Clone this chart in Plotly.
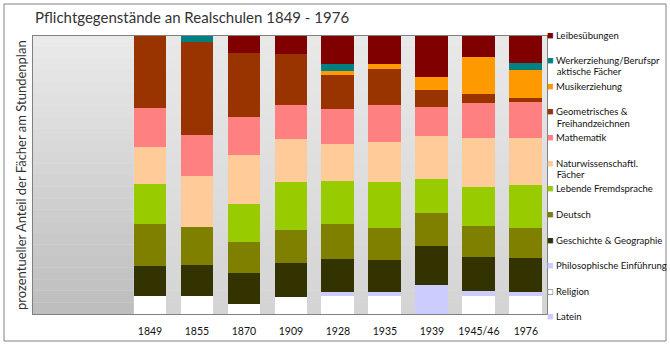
import plotly.graph_objects as go

years = ["1849", "1855", "1870", "1909", "1928", "1935", "1939", "1945/46", "1976"]

# percentage share of subjects (bottom of stack first)
latein       = [0, 0, 0, 0, 0, 0, 10.4, 0, 0]
religion     = [6.5, 6.5, 3.6, 6.1, 6.5, 6.5, 0, 6.5, 6.5]
philosophie  = [0, 0, 0, 0, 1.4, 1.4, 0, 1.8, 1.4]
geschichte   = [10.8, 11.2, 11.2, 12.2, 11.9, 11.5, 14.0, 12.2, 12.2]
deutsch      = [15.1, 13.7, 11.2, 11.9, 12.6, 11.5, 11.9, 11.2, 10.8]
fremdsprache = [14.4, 0, 13.7, 17.3, 15.5, 16.5, 12.2, 14.0, 15.5]
naturwiss    = [13.3, 18.3, 17.6, 15.5, 13.3, 14.4, 15.5, 17.6, 16.9]
mathematik   = [14.0, 14.7, 13.7, 12.2, 12.6, 13.3, 10.4, 12.6, 12.9]
geometrie    = [25.9, 33.5, 23.0, 18.3, 12.2, 12.9, 6.1, 3.2, 1.4]
musik        = [0, 0, 0, 0, 1.4, 1.8, 4.7, 13.3, 10.1]
werk         = [0, 2.2, 0, 0, 2.5, 0, 0, 0, 2.5]
leibes       = [0, 0, 6.1, 6.5, 10.1, 10.1, 14.7, 7.6, 9.7]

series_names = [
    "Latein", "Religion", "Philosophische Einführung", "Geschichte & Geographie",
    "Deutsch", "Lebende Fremdsprache", "Naturwissenschaftl.<br>Fächer", "Mathematik",
    "Geometrisches &<br>Freihandzeichnen", "Musikerziehung",
    "Werkerziehung/Berufspr<br>aktische Fächer", "Leibesübungen",
]
series_values = [latein, religion, philosophie, geschichte, deutsch, fremdsprache,
                 naturwiss, mathematik, geometrie, musik, werk, leibes]
series_colors = ["#CCCCFF", "#FFFFFF", "#CCCCFF", "#333300", "#808000", "#99CC00",
                 "#FFCC99", "#FF8080", "#993300", "#FF9900", "#008080", "#800000"]

FONT = "Lato"
fig = go.Figure()

for name, vals, col in zip(series_names, series_values, series_colors):
    fig.add_trace(go.Bar(x=years, y=vals, name=name, marker=dict(color=col, line=dict(width=0)),
                         showlegend=False))

# legend entries (glyph + label), added top of stack first
legend_traces = []
for name, col in zip(series_names, series_colors):
    if col == "#FFFFFF":
        glyph = '<span style="color:#909090;font-size:11px">□</span>'
    else:
        glyph = f'<span style="color:{col};font-size:11px">■</span>'
    label = name if "<br>" in name else name + "<br>&nbsp;"
    first, second = label.split("<br>")
    txt = (f'{glyph}<span style="font-size:9.5px"> {first}</span><br>'
           f'<span style="font-size:9.5px">&nbsp;&nbsp;&nbsp;&nbsp;{second}</span>')
    legend_traces.append(go.Scatter(x=[None], y=[None], mode="markers", name=txt,
                                    marker=dict(size=1, color="rgba(0,0,0,0)",
                                                line=dict(width=0)),
                                    showlegend=True, hoverinfo="skip"))
for tr in legend_traces[::-1]:
    fig.add_trace(tr)

# background gradient shapes
shapes = []
n = 24
for i in range(n):
    t = i / (n - 1)
    g_all = int(round(232 - (232 - 212) * t))
    g_left = int(round(234 - (234 - 190) * t))
    y1 = 100 - 100 * i / n
    y0 = 100 - 100 * (i + 1) / n
    shapes.append(dict(type="rect", xref="x", yref="y", x0=-2.49, x1=8.45, y0=y0, y1=y1,
                       fillcolor=f"rgb({g_all},{g_all},{g_all})", line=dict(width=0), layer="below"))
    shapes.append(dict(type="rect", xref="x", yref="y", x0=-2.49, x1=-0.35, y0=y0, y1=y1,
                       fillcolor=f"rgb({g_left},{g_left},{g_left})", line=dict(width=0), layer="below"))
# outer frame
shapes.append(dict(type="rect", xref="paper", yref="paper",
                   x0=(4 - 33) / 514, x1=(666 - 33) / 514, y0=(314 - 341) / 278, y1=(314 - 4) / 278,
                   line=dict(color="#808080", width=1), fillcolor="rgba(0,0,0,0)", layer="above"))

fig.update_layout(
    width=670, height=347,
    margin=dict(l=33, r=123, t=36, b=33, autoexpand=False),
    paper_bgcolor="white", plot_bgcolor="#E0E0E0",
    barmode="stack", bargap=0.3,
    font=dict(family=FONT, color="#111111"),
    title=dict(text="Pflichtgegenstände an Realschulen 1849 - 1976", x=35 / 670, xanchor="left",
               xref="container", y=1 - 18 / 347, yanchor="middle",
               font=dict(family=FONT, size=15, color="#333333")),
    xaxis=dict(type="category", range=[-2.49, 8.45], showgrid=False, zeroline=False,
               showline=True, linecolor="#808080", linewidth=1, mirror=True,
               ticks="outside", ticklen=7, tickcolor="rgba(0,0,0,0)",
               tickfont=dict(family=FONT, size=10.5, color="#111111")),
    yaxis=dict(range=[0, 100], showgrid=False, zeroline=False, showticklabels=False,
               showline=True, linecolor="#808080", linewidth=1, mirror=True, ticks=""),
    legend=dict(x=(507 - 33) / 514, xanchor="left", y=(314 - 23) / 278, yanchor="top",
                font=dict(family=FONT, size=8.7, color="#111111"),
                bgcolor="rgba(0,0,0,0)", borderwidth=0, tracegroupgap=0,
                traceorder="normal", itemclick=False, itemdoubleclick=False,
                maxheight=340),
    shapes=shapes,
    annotations=[dict(text="prozentueller Anteil der Fächer am Stundenplan", textangle=-90,
                      xref="paper", yref="paper", x=(21 - 33) / 514, y=0.5,
                      xanchor="center", yanchor="middle", showarrow=False,
                      font=dict(family=FONT, size=13, color="#333333"))],
)

fig.write_html("out.html")
